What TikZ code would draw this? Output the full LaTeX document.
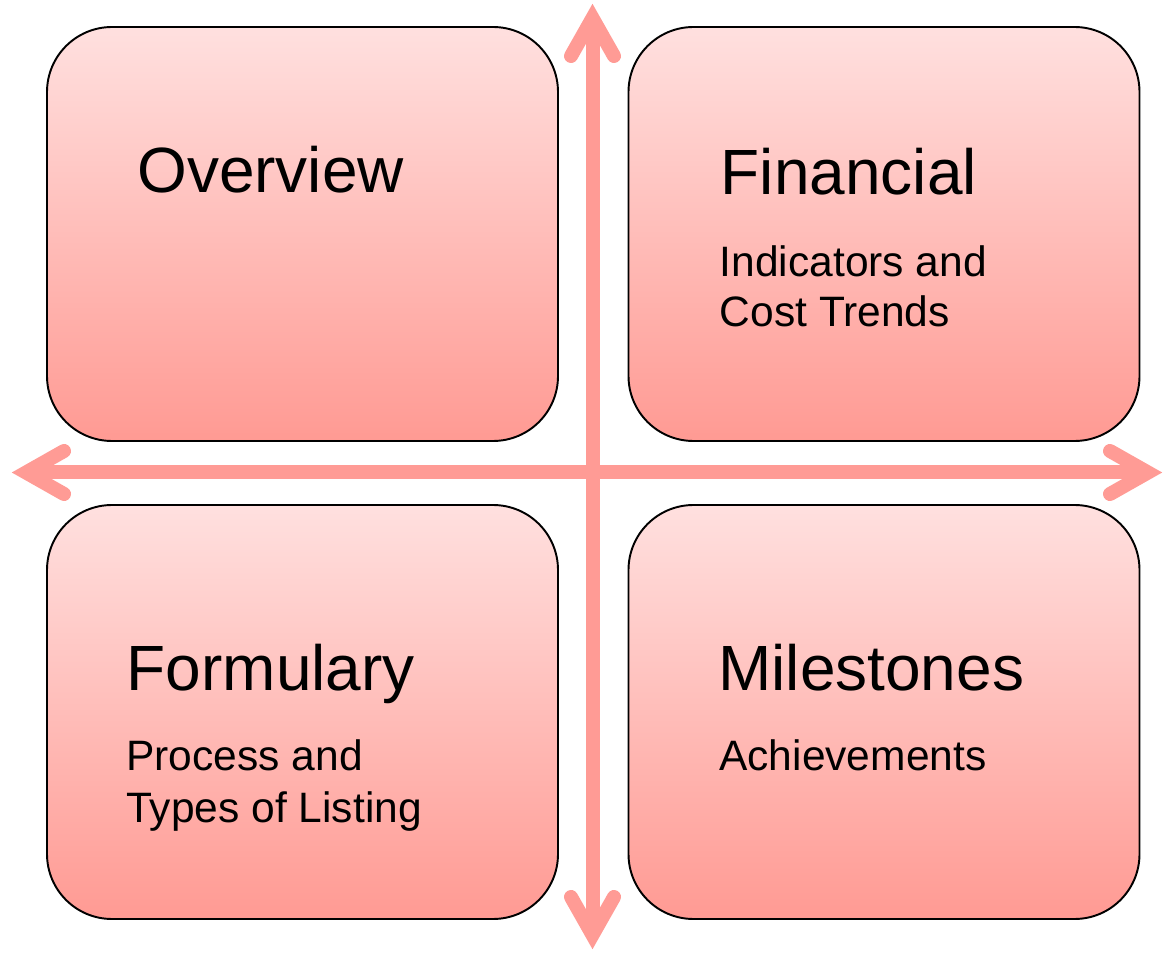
\documentclass[tikz,border=0pt]{standalone}
\usepackage{fontspec}
\setmainfont{Liberation Sans}

\definecolor{axisred}{HTML}{FF9B95}
\definecolor{boxtop}{HTML}{FFE0DF}
\definecolor{boxbot}{HTML}{FF9A93}

\tikzset{
  quad/.style={draw=black, line width=1.1pt, rounded corners=1.3cm,
    top color=boxtop, bottom color=boxbot,
    minimum width=10.22cm, minimum height=8.28cm, inner sep=0},
  head/.style={anchor=base west, inner sep=0, font=\fontsize{36.4}{40}\selectfont},
  sub/.style={anchor=base west, inner sep=0, font=\fontsize{24.2}{28}\selectfont},
  axis/.style={draw=axisred, line width=0.28cm, shorten <=0.28cm, shorten >=0.28cm},
  chev/.pic={
    \draw[axisred, line width=0.28cm, line cap=round, line join=miter]
      (-1.04,0.43) -- (-0.28,0) -- (-1.04,-0.43);
  }
}

\begin{document}
\begin{tikzpicture}
    \useasboundingbox (0,0) rectangle (23.26,19.04);
    % the four quadrants
    \node[quad] (ov) at (6.05,14.36) {};
    \node[quad] (fin) at (17.68,14.36) {};
    \node[quad] (form) at (6.05,4.8) {};
    \node[quad] (mile) at (17.68,4.8) {};
    % axes, tips are open chevrons
    \coordinate (top) at (11.85,18.96);
    \coordinate (bot) at (11.85,0.06);
    \coordinate (lft) at (0.24,9.59);
    \coordinate (rgt) at (23.24,9.59);
    \draw[axis] (lft) -- (rgt);
    \draw[axis] (bot) -- (top);
    \pic at (rgt) {chev};
    \pic[rotate=180] at (lft) {chev};
    \pic[rotate=90] at (top) {chev};
    \pic[rotate=-90] at (bot) {chev};
    % labels
    \node[head] (ovt) at (2.74,15.18) {Overview};
    \node[head] (fint) at (14.41,15.14) {Financial};
    \node[sub] (fin1) at (14.39,13.5) {Indicators and};
    \node[sub] (fin2) at (14.39,12.5) {Cost Trends};
    \node[head] (formt) at (2.53,5.24) {Formulary};
    \node[sub] (form1) at (2.52,3.64) {Process and};
    \node[sub] (form2) at (2.52,2.6) {Types of Listing};
    \node[head] (milet) at (14.36,5.24) {Milestones};
    \node[sub] (mile1) at (14.38,3.64) {Achievements};
\end{tikzpicture}
\end{document}
